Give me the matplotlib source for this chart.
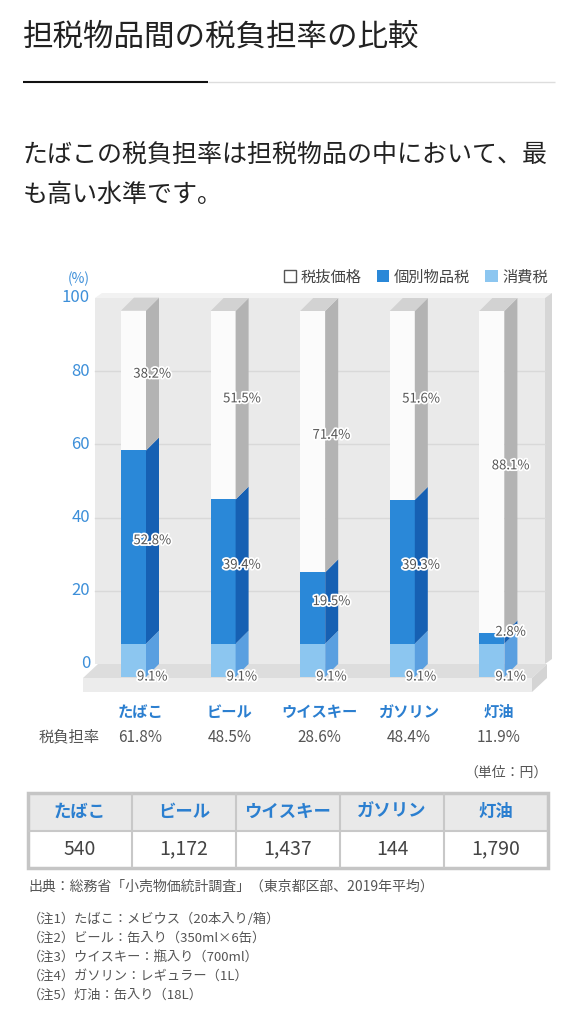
import matplotlib
matplotlib.use('Agg')
import matplotlib.pyplot as plt
from matplotlib.patches import Polygon, Rectangle, Patch
import matplotlib.patheffects as pe

plt.rcParams['font.family'] = ['Noto Sans CJK JP', 'DejaVu Sans']

# データ
categories = ['たばこ', 'ビール', 'ウイスキー', 'ガソリン', '灯油']
consumption_tax = [9.1, 9.1, 9.1, 9.1, 9.1]
excise_tax = [52.8, 39.4, 19.5, 39.3, 2.8]
base_price = [38.2, 51.5, 71.4, 51.6, 88.1]
burden_rate = [61.8, 48.5, 28.6, 48.4, 11.9]
retail_price = [540, 1172, 1437, 144, 1790]
yticks = [0, 20, 40, 60, 80, 100]
legend_labels = ['税抜価格', '個別物品税', '消費税']

title = '担税物品間の税負担率の比較'
lead = ['たばこの税負担率は担税物品の中において、最', 'も高い水準です。']
source = '出典：総務省「小売物価統計調査」（東京都区部、2019年平均）'
notes = ['（注1）たばこ：メビウス（20本入り/箱）',
         '（注2）ビール：缶入り（350ml×6缶）',
         '（注3）ウイスキー：瓶入り（700ml）',
         '（注4）ガソリン：レギュラー（1L）',
         '（注5）灯油：缶入り（18L）']

c_white, c_white_side = '#fbfbfb', '#b3b3b3'
c_blue, c_blue_side = '#2a88d8', '#1660b3'
c_lblue, c_lblue_side = '#8cc6f0', '#5a9fe0'
c_top = '#d2d2d2'
c_tick = '#3d8fd9'
c_text = '#555555'

W, H = 579, 1024
fig = plt.figure(figsize=(W / 100, H / 100), dpi=100)
fig.patch.set_facecolor('white')

# ページ全体 (ピクセル座標)
bg = fig.add_axes([0, 0, 1, 1])
bg.set_xlim(0, W)
bg.set_ylim(H, 0)
bg.axis('off')

bg.text(23, 37, title, fontsize=22, color='#222222', va='center', ha='left')
bg.plot([23, 208], [81.5, 81.5], color='#111111', lw=1.5, solid_capstyle='butt')
bg.plot([208, 555], [81.5, 81.5], color='#dddddd', lw=1, solid_capstyle='butt')
for i, line in enumerate(lead):
    bg.text(23, 155 + 40 * i, line, fontsize=18, color='#222222', va='center', ha='left')

# グラフ
X0, XSTEP, Y0, YSCALE = 133.5, 89.6, 664, 3.66
def px_x(p):
    return (p - X0) / XSTEP
def px_y(p):
    return (Y0 - p) / YSCALE

L, R, T, B = 60, 565, 285, 700
ax = fig.add_axes([L / W, 1 - B / H, (R - L) / W, (B - T) / H])
ax.set_xlim(px_x(L), px_x(R))
ax.set_ylim(px_y(B), px_y(T))
ax.axis('off')
ax.patch.set_alpha(0)

DX, DY = 13 / XSTEP, 13 / YSCALE
HW = 12.5 / XSTEP

# 背面の壁
wl, wr = px_x(95), px_x(545)
wdx, wdy = 7 / XSTEP, 5 / YSCALE
ax.add_patch(Rectangle((wl, 0), wr - wl, 100, fc='#eaeaea', ec='none', zorder=1))
ax.add_patch(Polygon([(wl, 100), (wr, 100), (wr + wdx, 100 + wdy), (wl + wdx, 100 + wdy)],
                     fc='#f2f2f2', ec='none', zorder=1))
ax.add_patch(Polygon([(wr, 100), (wr + wdx, 100 + wdy), (wr + wdx, wdy), (wr, 0)],
                     fc='#d6d6d6', ec='none', zorder=1))
for v in yticks[1:-1]:
    ax.plot([wl, wr], [v, v], color='#d9d9d9', lw=1, zorder=2)

# 床
fl, fr = px_x(83), px_x(532)
fdx = 15 / XSTEP
fdy = 14 / YSCALE
fth = 14 / YSCALE
ax.add_patch(Polygon([(fl, -fdy), (fr, -fdy), (fr + fdx, 0), (fl + fdx, 0)],
                     fc='#dddddd', ec='none', zorder=3))
ax.add_patch(Rectangle((fl, -fdy - fth), fr - fl, fth, fc='#ececec', ec='none', zorder=3))
ax.add_patch(Polygon([(fr, -fdy), (fr + fdx, 0), (fr + fdx, -fth), (fr, -fdy - fth)],
                     fc='#d4d4d4', ec='none', zorder=3))

# 目盛
for v in yticks:
    ax.text(px_x(90), v, str(v), fontsize=12, color=c_tick, ha='right', va='center')
ax.text(px_x(90), px_y(279), '(%)', fontsize=10, color=c_tick, ha='right', va='center')

# 積み上げ棒 (疑似3D)
xs = list(range(len(categories)))
segments = [(consumption_tax, c_lblue, c_lblue_side),
            (excise_tax, c_blue, c_blue_side),
            (base_price, c_white, c_white_side)]
halo = [pe.withStroke(linewidth=2.5, foreground='white')]
for i, x in enumerate(xs):
    bottom = 0
    for k, (vals, fc, sc) in enumerate(segments):
        v = vals[i]
        top = bottom + v
        ax.bar(x, v, bottom=bottom - DY, width=2 * HW, color=fc, zorder=5)
        ax.add_patch(Polygon([(x + HW, bottom - DY), (x + HW + DX, bottom),
                              (x + HW + DX, top), (x + HW, top - DY)],
                             fc=sc, ec='none', zorder=5))
        ly = -DY if k == 0 else (bottom + top) / 2 - 1.8
        ax.text(x + 0.21, ly, f'{v}%', fontsize=9.5, color=c_text, ha='center', va='center',
                zorder=8, path_effects=halo)
        bottom = top
    ax.add_patch(Polygon([(x - HW, bottom - DY), (x + HW, bottom - DY),
                          (x + HW + DX, bottom), (x - HW + DX, bottom)],
                         fc=c_top, ec='none', zorder=5))

# 品目名と税負担率
for x, name, rate in zip(xs, categories, burden_rate):
    ax.text(x + DX / 2, px_y(712), name, fontsize=11, color='#2b7fd0', fontweight='bold',
            ha='center', va='center')
    ax.text(x + DX / 2, px_y(737), f'{rate}%', fontsize=11, color=c_text, ha='center', va='center')
ax.text(px_x(100), px_y(737), '税負担率', fontsize=11, color=c_text, ha='right', va='center')

handles = [Patch(fc='white', ec='#555555', lw=1), Patch(fc=c_blue), Patch(fc=c_lblue)]
ax.legend(handles, legend_labels, loc='center right', bbox_to_anchor=(548 / W, 1 - 277 / H),
          bbox_transform=fig.transFigure, ncol=3, frameon=False, fontsize=11,
          handlelength=0.8, handleheight=0.8, handletextpad=0.3, columnspacing=1.0,
          labelcolor='#444444', borderpad=0, borderaxespad=0)

# 価格表
bg.text(548, 773, '（単位：円）', fontsize=10, color=c_text, ha='right', va='center')
tl, tt, tr, tb = 28, 793, 548, 868
tx = fig.add_axes([tl / W, 1 - tb / H, (tr - tl) / W, (tb - tt) / H])
tx.set_xlim(0, len(categories))
tx.set_ylim(2, 0)
tx.axis('off')
tx.add_patch(Rectangle((0, 0), len(categories), 1, fc='#e9e9e9', ec='none'))
tx.add_patch(Rectangle((0, 1), len(categories), 1, fc='white', ec='none'))
for j in range(1, len(categories)):
    tx.plot([j, j], [0, 2], color='#c8c8c8', lw=1.5)
tx.plot([0, len(categories)], [1, 1], color='#c8c8c8', lw=1.5)
tx.add_patch(Rectangle((0, 0), len(categories), 2, fill=False, ec='#c5c5c5', lw=2.5, clip_on=False))
for j, (name, price) in enumerate(zip(categories, retail_price)):
    tx.text(j + 0.5, 0.5, name, fontsize=12.5, color='#2b7fd0', fontweight='bold',
            ha='center', va='center')
    tx.text(j + 0.5, 1.5, f'{price:,}', fontsize=14, color='#444444', ha='center', va='center')

# 出典・注記
bg.text(28, 887, source, fontsize=10, color=c_text, ha='left', va='center')
for i, n in enumerate(notes):
    bg.text(28, 919 + 19 * i, n, fontsize=9.5, color=c_text, ha='left', va='center')

fig.savefig('out.png', dpi=100, facecolor='white')
